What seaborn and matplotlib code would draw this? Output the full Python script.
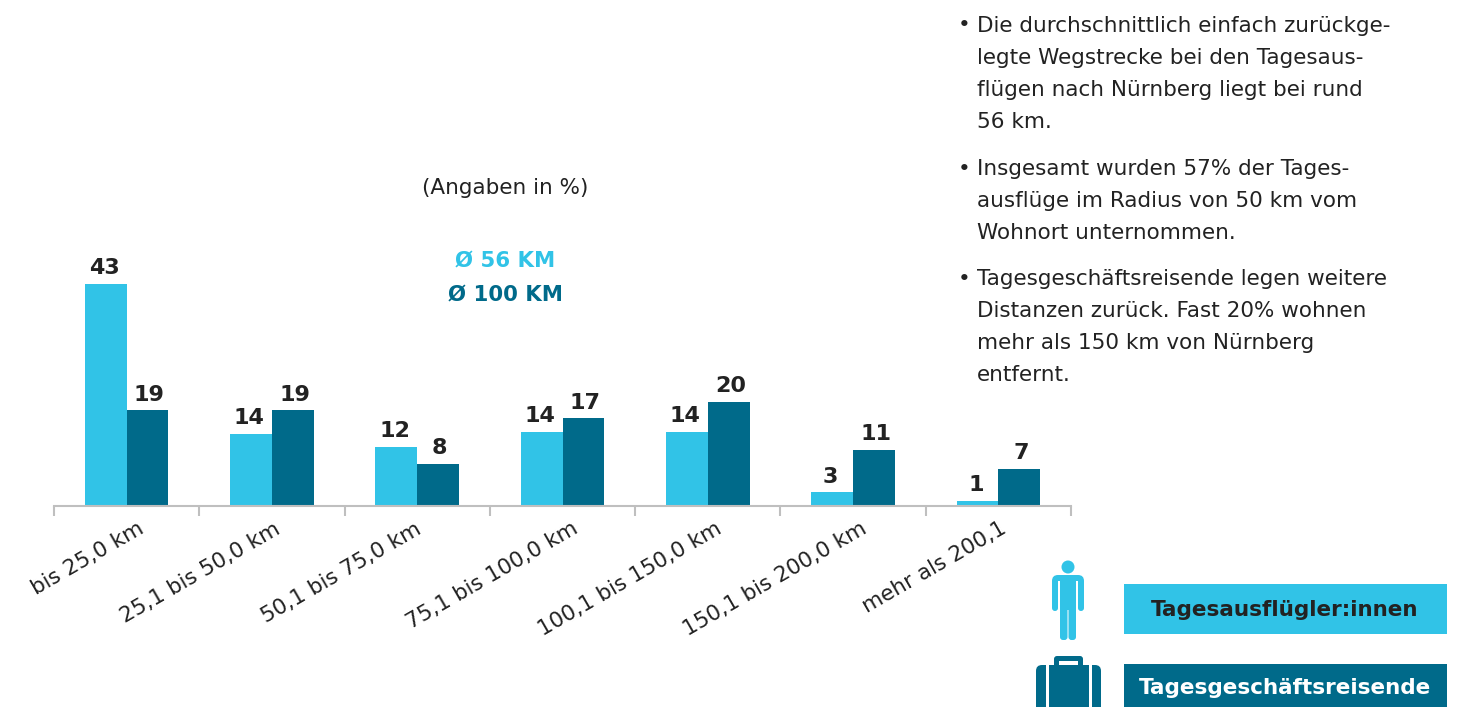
# -*- coding: utf-8 -*-
import pandas as pd
import matplotlib
matplotlib.use("Agg")
import matplotlib.pyplot as plt
from matplotlib.patches import Circle, FancyBboxPatch, Rectangle
import seaborn as sns

# Werte
kategorien = ["bis 25,0 km", "25,1 bis 50,0 km", "50,1 bis 75,0 km", "75,1 bis 100,0 km",
              "100,1 bis 150,0 km", "150,1 bis 200,0 km", "mehr als 200,1"]
tagesausfluegler = [43.2, 14.0, 11.5, 14.4, 14.4, 2.7, 1.0]
geschaeftsreisende = [18.6, 18.6, 8.2, 17.0, 20.2, 10.9, 7.2]
serien = ["Tagesausflügler:innen", "Tagesgeschäftsreisende"]

hell = "#31C3E7"
dunkel = "#006A8A"
text_farbe = "#222222"

bullets = [
    (28.5, ["Die durchschnittlich einfach zurückge-", "legte Wegstrecke bei den Tagesaus-",
            "flügen nach Nürnberg liegt bei rund", "56 km."]),
    (172, ["Insgesamt wurden 57% der Tages-", "ausflüge im Radius von 50 km vom",
           "Wohnort unternommen."]),
    (282, ["Tagesgeschäftsreisende legen weitere", "Distanzen zurück. Fast 20% wohnen",
           "mehr als 150 km von Nürnberg", "entfernt."]),
]

df = pd.DataFrame({"kategorie": kategorien * 2,
                   "wert": tagesausfluegler + geschaeftsreisende,
                   "serie": [serien[0]] * 7 + [serien[1]] * 7})

sns.set_theme(style="white")
plt.rcParams["font.family"] = ["DejaVu Sans"]

W, H = 1472, 707
fig = plt.figure(figsize=(W / 100, H / 100), dpi=100)
ax = fig.add_axes([54 / W, (H - 506) / H, (1071 - 54) / W, 306 / H])

sns.barplot(data=df, x="kategorie", y="wert", hue="serie", order=kategorien, hue_order=serien,
            palette=[hell, dunkel], width=0.575, gap=0, legend=False, ax=ax, saturation=1,
            linewidth=0, edgecolor="none")
# Zahlen sitzen leicht nach aussen versetzt
for c, dx in zip(ax.containers, [-1.2, 1.2]):
    for t in ax.bar_label(c, fmt="%.0f", padding=3.5, fontsize=16, fontweight="bold", color=text_farbe):
        t.xyann = (dx, 4)

ax.set_xlim(-0.5, 6.5)
ax.set_ylim(0, 306 / 5.15)
ax.set_xlabel("")
ax.set_ylabel("")
ax.set_yticks([])
sns.despine(ax=ax, left=True)
ax.spines["bottom"].set_color("#BFBFBF")
ax.spines["bottom"].set_linewidth(1.5)
# Ticks zwischen den Kategorien
ax.set_xticks([i - 0.5 for i in range(8)], minor=False)
ax.set_xticklabels([])
ax.tick_params(axis="x", length=7, width=1.5, color="#BFBFBF", bottom=True, direction="out")
# Labels stehen im Original nicht ganz gleichmaessig
versatz = [8, 1.5, -1.5, 6.5, 5, 5, 1]
for i, k in enumerate(kategorien):
    ax.annotate(k, xy=(i, 0), xycoords=("data", "axes fraction"), xytext=(versatz[i], -9),
                textcoords="offset points", rotation=30, ha="right", va="top",
                rotation_mode="anchor", fontsize=15.5, color=text_farbe)

# Overlay in Pixelkoordinaten fuer Texte und Icons
ov = fig.add_axes([0, 0, 1, 1], facecolor="none")
ov.set_xlim(0, W)
ov.set_ylim(H, 0)
ov.axis("off")

ov.text(505, 188, "(Angaben in %)", ha="center", va="center", fontsize=15.5, color=text_farbe)
ov.text(505, 261, "Ø 56 KM", ha="center", va="center", fontsize=15.3, fontweight="bold", color=hell)
ov.text(505, 295, "Ø 100 KM", ha="center", va="center", fontsize=15.3, fontweight="bold", color=dunkel)

for y0, zeilen in bullets:
    ov.text(958, y0 - 3, "•", ha="left", va="center", fontsize=15.5, color=text_farbe)
    for j, z in enumerate(zeilen):
        ov.text(977, y0 - 3 + j * 32, z, ha="left", va="center", fontsize=15.5, color=text_farbe)

# Legende
ov.add_patch(Rectangle((1124, 584), 323, 50, color=hell, lw=0))
ov.text(1285, 610, serien[0], ha="center", va="center", fontsize=15.5, fontweight="bold", color=text_farbe)
ov.add_patch(Rectangle((1124, 664), 323, 43, color=dunkel, lw=0))
ov.text(1285, 688, serien[1], ha="center", va="center", fontsize=15.5, fontweight="bold", color="white")

# Person
ov.add_patch(Circle((1068, 567), 6.5, color=hell, lw=0))
ov.add_patch(FancyBboxPatch((1052, 575), 32, 24, boxstyle="round,pad=0,rounding_size=6", color=hell, lw=0))
ov.add_patch(FancyBboxPatch((1052, 580), 6, 31, boxstyle="round,pad=0,rounding_size=3", color=hell, lw=0))
ov.add_patch(FancyBboxPatch((1078, 580), 6, 31, boxstyle="round,pad=0,rounding_size=3", color=hell, lw=0))
ov.add_patch(Rectangle((1058, 581), 2, 32, color="white", lw=0))
ov.add_patch(Rectangle((1076, 581), 2, 32, color="white", lw=0))
ov.add_patch(Rectangle((1060, 580), 16, 30, color=hell, lw=0))
ov.add_patch(FancyBboxPatch((1060, 600), 7.5, 40, boxstyle="round,pad=0,rounding_size=3", color=hell, lw=0))
ov.add_patch(FancyBboxPatch((1068.5, 600), 7.5, 40, boxstyle="round,pad=0,rounding_size=3", color=hell, lw=0))

# Koffer
ov.add_patch(FancyBboxPatch((1054, 656), 29, 16, boxstyle="round,pad=0,rounding_size=3", color=dunkel, lw=0))
ov.add_patch(Rectangle((1059, 661), 19, 6, color="white", lw=0))
ov.add_patch(FancyBboxPatch((1036, 665), 65, 50, boxstyle="round,pad=0,rounding_size=6", color=dunkel, lw=0))
ov.add_patch(Rectangle((1046, 665), 2.5, 42, color="white", lw=0))
ov.add_patch(Rectangle((1089, 665), 2.5, 42, color="white", lw=0))

fig.savefig("out.png", dpi=100)
